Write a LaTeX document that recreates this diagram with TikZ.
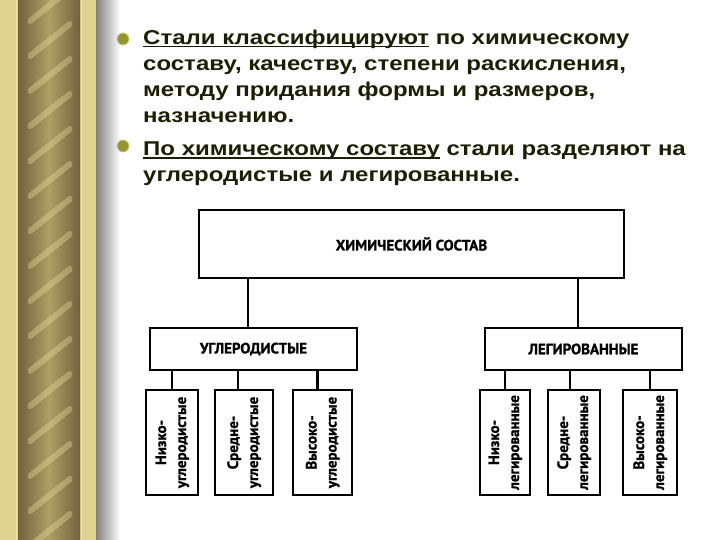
\documentclass[tikz,border=0pt]{standalone}
\usepackage{graphicx}
\usepackage{fontspec}
\setmainfont{Liberation Sans}[FakeStretch=1.2]
\newfontfamily\schemefont[FakeBold=1.2]{PT Sans}
\newcommand{\undl}[1]{\setbox0\hbox{#1}\rlap{\rule[-2.8pt]{\wd0}{1.6pt}}\box0\relax}
\definecolor{goldlight}{RGB}{222,210,142}
\definecolor{golddark}{RGB}{112,98,60}
\definecolor{goldmid}{RGB}{176,158,100}
\definecolor{goldhi}{RGB}{242,226,166}
\definecolor{bulletolive}{RGB}{150,150,48}
\definecolor{bulletrim}{RGB}{205,205,130}
\definecolor{inkdark}{RGB}{30,30,5}
\usetikzlibrary{positioning}

\begin{document}
\begin{tikzpicture}[x=1pt,y=-1pt,
    block/.style={rectangle, draw=black, line width=2.6pt, fill=white, inner sep=0pt,
                  font=\schemefont\bfseries\fontsize{15}{20}\selectfont},
    leaf/.style={block, minimum height=105pt},
    link/.style={line width=2.6pt, black},
    bullet/.style={circle, fill=bulletolive, draw=bulletrim, line width=0.8pt,
                   minimum size=12pt, inner sep=0pt},
    para/.style={anchor=north west, inner sep=0pt, align=left, text=inkdark,
                 font=\bfseries\fontsize{20}{26}\selectfont}
  ]
  \useasboundingbox (0,0) rectangle (720,540);
  \fill[white] (0,0) rectangle (720,540);

  % gilded rope on the left edge
  \fill[goldlight] (0,0) rectangle (96,540);
  \shade[left color=golddark, right color=golddark, middle color=goldmid] (18,0) rectangle (80,540);
  \begin{scope}
    \clip (28,0) rectangle (72,540);
    \foreach \y in {-40,-5,...,580}
      \draw[goldhi, line width=6pt, opacity=0.35, line cap=round] (30,\y+26) -- (70,\y-6);
  \end{scope}
  \draw[goldhi, line width=0.8pt] (16,0) -- (16,540);
  \draw[goldhi, line width=0.8pt] (81,0) -- (81,540);
  \shade[left color=black!50, right color=white] (96,0) rectangle (120,540);

  % text
  \node[bullet] (b1) at (123,39) {};
  \node[bullet] (b2) at (123,146) {};
  \node[para] (p1) at (143,30)
    {\undl{Стали классифицируют} по химическому\\
     составу, качеству, степени раскисления,\\
     методу придания формы и размеров,\\
     назначению.};
  \node[para] (p2) at (143,142)
    {\undl{По химическому составу} стали разделяют на\\
     углеродистые и легированные.};

  % scheme
  \node[block, minimum width=425pt, minimum height=68pt] (top) at (411.5,244) {ХИМИЧЕСКИЙ СОСТАВ};
  \node[block, minimum width=207pt, minimum height=42pt] (carb) at (253.5,349) {УГЛЕРОДИСТЫЕ};
  \node[block, minimum width=197pt, minimum height=42pt] (alloy) at (583.5,349) {ЛЕГИРОВАННЫЕ};

  \node[leaf, minimum width=52pt] (c1) at (172,442.5)
    {\rotatebox{90}{\begin{tabular}{@{}c@{}}Низко-\\углеродистые\end{tabular}}};
  \node[leaf, minimum width=58pt] (c2) at (244,442.5)
    {\rotatebox{90}{\begin{tabular}{@{}c@{}}Средне-\\углеродистые\end{tabular}}};
  \node[leaf, minimum width=59pt] (c3) at (322.5,442.5)
    {\rotatebox{90}{\begin{tabular}{@{}c@{}}Высоко-\\углеродистые\end{tabular}}};
  \node[leaf, minimum width=50pt] (a1) at (505,442.5)
    {\rotatebox{90}{\begin{tabular}{@{}c@{}}Низко-\\легированные\end{tabular}}};
  \node[leaf, minimum width=52pt] (a2) at (574,442.5)
    {\rotatebox{90}{\begin{tabular}{@{}c@{}}Средне-\\легированные\end{tabular}}};
  \node[leaf, minimum width=54pt] (a3) at (650,442.5)
    {\rotatebox{90}{\begin{tabular}{@{}c@{}}Высоко-\\легированные\end{tabular}}};

  \draw[link] ([xshift=-5.5pt]carb.north) -- ([xshift=-5.5pt]carb.north |- top.south);
  \draw[link] ([xshift=-5.5pt]alloy.north) -- ([xshift=-5.5pt]alloy.north |- top.south);
  \draw[link] (c1.north) -- (c1.north |- carb.south);
  \draw[link] ([xshift=-6pt]c2.north) -- ([xshift=-6pt]c2.north |- carb.south);
  \draw[link] ([xshift=-5pt]c3.north) -- ([xshift=-5pt]c3.north |- carb.south);
  \draw[link] (a1.north) -- (a1.north |- alloy.south);
  \draw[link] ([xshift=-4pt]a2.north) -- ([xshift=-4pt]a2.north |- alloy.south);
  \draw[link] (a3.north) -- (a3.north |- alloy.south);
\end{tikzpicture}
\end{document}
